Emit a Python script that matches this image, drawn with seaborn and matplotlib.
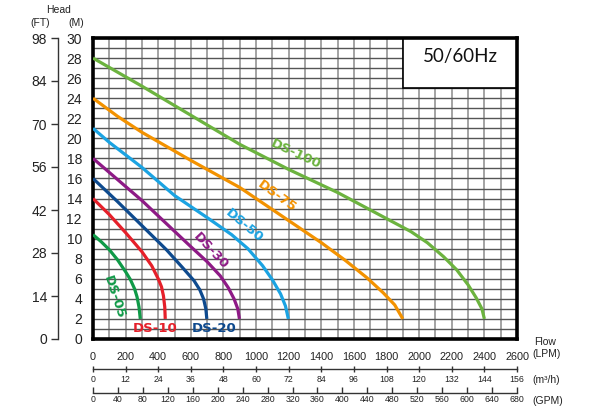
import numpy as np
import pandas as pd
import matplotlib
matplotlib.use("Agg")
import matplotlib.pyplot as plt
import seaborn as sns
from matplotlib.patches import Rectangle

# pump curves, flow in LPM / head in M
ds05_flow = [0, 50, 100, 150, 200, 230, 255, 270, 282, 290]
ds05_head = [10.4, 9.7, 8.9, 7.9, 6.7, 5.9, 5.0, 4.2, 3.2, 2.0]
ds10_flow = [0, 100, 200, 300, 360, 400, 420, 432, 440, 443]
ds10_head = [14.0, 12.4, 10.6, 8.7, 7.3, 6.0, 5.2, 4.3, 3.2, 2.0]
ds20_flow = [0, 150, 300, 450, 550, 620, 655, 678, 692, 698]
ds20_head = [16.0, 13.7, 11.3, 8.9, 7.1, 5.8, 4.9, 4.0, 3.0, 2.0]
ds30_flow = [0, 150, 300, 450, 600, 700, 780, 830, 865, 888, 898]
ds30_head = [18.0, 15.9, 13.8, 11.5, 9.2, 7.7, 6.3, 5.1, 4.0, 3.0, 2.0]
ds50_flow = [0, 100, 300, 500, 700, 850, 950, 1040, 1100, 1150, 1180, 1198]
ds50_head = [21.0, 19.6, 17.1, 14.3, 12.1, 10.4, 9.0, 7.3, 5.9, 4.5, 3.3, 2.0]
ds75_flow = [0, 150, 300, 600, 900, 1200, 1400, 1550, 1680, 1780, 1850, 1900]
ds75_head = [24.0, 22.2, 20.6, 17.8, 15.1, 11.8, 9.6, 7.8, 6.1, 4.6, 3.4, 2.0]
ds100_flow = [0, 150, 300, 600, 900, 1200, 1500, 1800, 1950, 2050, 2150, 2230, 2300, 2350, 2385, 2400]
ds100_head = [28.0, 26.6, 25.2, 22.3, 19.4, 16.9, 14.6, 12.0, 10.7, 9.6, 8.2, 6.9, 5.4, 4.1, 3.0, 2.0]

models = ["DS-05", "DS-10", "DS-20", "DS-30", "DS-50", "DS-75", "DS-100"]
colors = ["#109a48", "#e5202a", "#0e4a8e", "#8e1a86", "#1ba3e2", "#f39200", "#6cb33f"]
flows = [ds05_flow, ds10_flow, ds20_flow, ds30_flow, ds50_flow, ds75_flow, ds100_flow]
heads = [ds05_head, ds10_head, ds20_head, ds30_head, ds50_head, ds75_head, ds100_head]

lpm_ticks = list(range(0, 2601, 200))
m_ticks = list(range(0, 31, 2))
ft_ticks = [0, 14, 28, 42, 56, 70, 84, 98]
m3h_ticks = list(range(0, 157, 12))
gpm_ticks = list(range(0, 681, 40))

frames = []
for name, fl, hd in zip(models, flows, heads):
    frames.append(pd.DataFrame({"flow": fl, "head": hd, "model": name}))
df = pd.concat(frames, ignore_index=True)

sns.set_style("white")
plt.rcParams["font.family"] = ["Liberation Sans", "DejaVu Sans"]
txt = "#222222"

fig = plt.figure(figsize=(5.92, 4.07), dpi=100)
ax = fig.add_axes([93 / 592, 68 / 407, 424 / 592, 301 / 407])

sns.lineplot(data=df, x="flow", y="head", hue="model",
             palette=dict(zip(models, colors)), linewidth=2.3,
             legend=False, sort=False, estimator=None, ax=ax, zorder=3)
for ln in ax.lines:
    ln.set_solid_joinstyle("round")
    ln.set_solid_capstyle("butt")

ax.set_xlim(0, 2600)
ax.set_ylim(0, 30)
ax.set_xticks(lpm_ticks)
ax.set_yticks(m_ticks)
ax.set_xticks(np.arange(0, 2601, 100), minor=True)
ax.set_yticks(np.arange(0, 31, 1), minor=True)
ax.set_axisbelow(True)
ax.grid(which="both", axis="x", color="#9c9c9c", lw=1.3)
ax.grid(which="both", axis="y", color="#555555", lw=1.0)
ax.tick_params(which="both", length=0)
ax.tick_params(axis="x", labelsize=7.8, pad=9, labelcolor=txt)
ax.tick_params(axis="y", labelsize=10, pad=8, labelcolor=txt)
ax.set_xlabel("")
ax.set_ylabel("")
for s in ax.spines.values():
    s.set_color("black")
    s.set_linewidth(2.6)

# frequency box in the top right corner
ax.add_patch(Rectangle((1900, 25), 700, 5, facecolor="white",
                       edgecolor="black", lw=1.2, zorder=2))
ax.text(2250, 28.2, "50/60Hz", ha="center", va="center", fontsize=13.5,
        family="Lato", color="#111111", zorder=4)

# curve labels
lab = dict(fontsize=9.5, fontweight="bold", family="DejaVu Sans",
           ha="center", va="center", zorder=4)
ax.text(129, 4.2, "DS-05", color=colors[0], rotation=-72, **lab)
ax.text(382, 1.05, "DS-10", color=colors[1], **lab)
ax.text(741, 1.05, "DS-20", color=colors[2], **lab)
ax.text(721, 8.8, "DS-30", color=colors[3], rotation=-47, **lab)
ax.text(926, 11.3, "DS-50", color=colors[4], rotation=-40, **lab)
ax.text(1126, 14.2, "DS-75", color=colors[5], rotation=-36, **lab)
ax.text(1245, 18.4, "DS-100", color=colors[6], rotation=-25, **lab)

# head in feet
ft_ax = ax.secondary_yaxis(-0.0825, functions=(lambda m: m * 98 / 30,
                                               lambda f: f * 30 / 98))
ft_ax.set_yticks(ft_ticks)
ft_ax.tick_params(direction="out", length=5, width=1, pad=3,
                  labelsize=10, labelcolor=txt, color="#333333")
ft_ax.spines["left"].set_color("#333333")
ft_ax.spines["left"].set_linewidth(1)

# flow in m3/h
q_ax = ax.secondary_xaxis(-0.0997, functions=(lambda l: l * 60 / 1000,
                                              lambda q: q * 1000 / 60))
q_ax.set_xticks(m3h_ticks)
q_ax.tick_params(direction="inout", length=5, width=1, pad=2,
                 labelsize=6.3, labelcolor=txt, color="#333333")
q_ax.spines["bottom"].set_color("#333333")
q_ax.spines["bottom"].set_linewidth(1)

# flow in GPM
g_ax = ax.secondary_xaxis(-0.178, functions=(lambda l: l * 680 / 2600,
                                             lambda g: g * 2600 / 680))
g_ax.set_xticks(gpm_ticks)
g_ax.tick_params(direction="in", length=4, width=1, pad=2,
                 labelsize=6.3, labelcolor=txt, color="#333333")
g_ax.spines["bottom"].set_color("#333333")
g_ax.spines["bottom"].set_linewidth(1)

# unit captions
cap = dict(fontsize=7.5, color=txt, va="center")
fig.text(59 / 592, 1 - 10 / 407, "Head", ha="center", **cap)
fig.text(40 / 592, 1 - 23 / 407, "(FT)", ha="center", **cap)
fig.text(76 / 592, 1 - 23 / 407, "(M)", ha="center", **cap)
fig.text(534 / 592, 1 - 342 / 407, "Flow", ha="left", **cap)
fig.text(532 / 592, 1 - 354 / 407, "(LPM)", ha="left", **cap)
fig.text(532 / 592, 1 - 380 / 407, "(m\u00b3/h)", ha="left", **cap)
fig.text(532 / 592, 1 - 401 / 407, "(GPM)", ha="left", **cap)

fig.savefig("out.png", dpi=100)
